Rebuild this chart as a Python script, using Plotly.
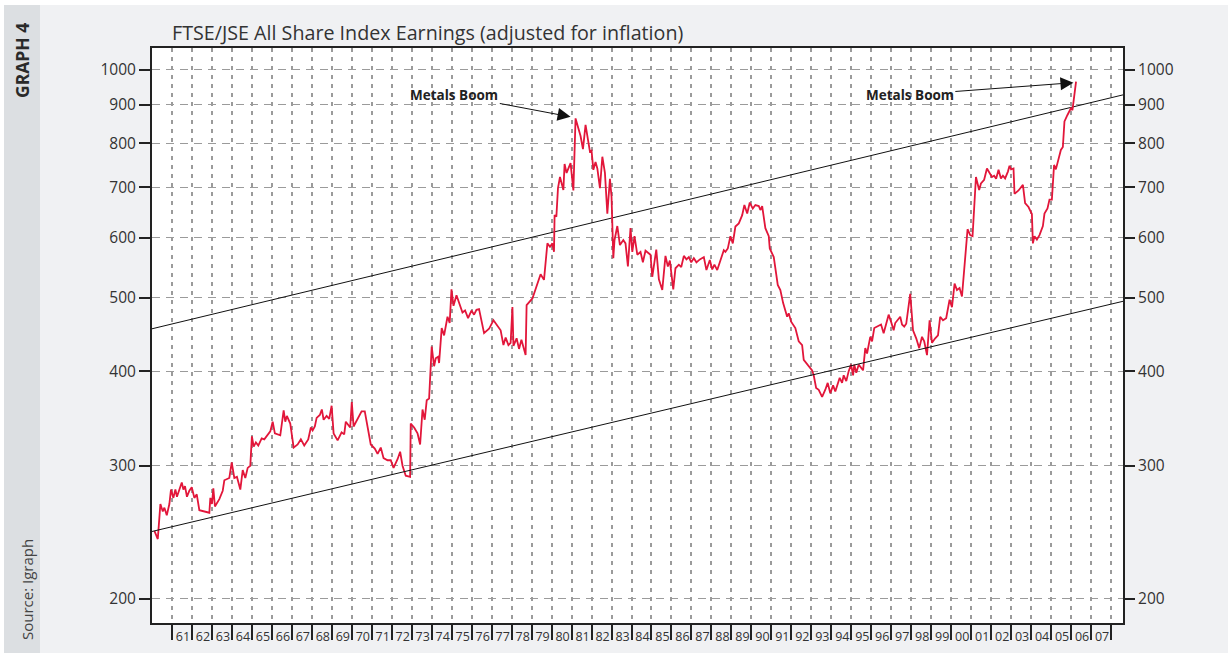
import math
import plotly.graph_objects as go

# ---------------- data ----------------
years = [
    1960.12, 1960.29, 1960.42, 1960.54, 1960.62, 1960.74, 1960.87, 1960.95,
    1961.07, 1961.17, 1961.25, 1961.37, 1961.49, 1961.57, 1961.65, 1961.75, 1961.87, 1961.99,
    1962.12, 1962.24, 1962.37, 1962.87, 1962.92,
    1963.00, 1963.07, 1963.15, 1963.37, 1963.54, 1963.62, 1963.87, 1963.99,
    1964.12, 1964.25, 1964.42, 1964.54, 1964.67, 1964.79, 1964.92,
    1965.00, 1965.09, 1965.20, 1965.32, 1965.49, 1965.62, 1965.79, 1965.92,
    1966.04, 1966.15, 1966.42, 1966.59, 1966.67, 1966.75, 1966.92,
    1967.09, 1967.29, 1967.45, 1967.62, 1967.82, 1967.95,
    1968.04, 1968.15, 1968.24, 1968.40, 1968.50, 1968.59, 1968.74, 1968.87, 1968.99,
    1969.09, 1969.29, 1969.49, 1969.62, 1969.70, 1969.82, 1969.92,
    1970.00, 1970.09, 1970.49, 1970.65, 1970.95,
    1971.15, 1971.29, 1971.45, 1971.59, 1971.79, 1971.95,
    1972.09, 1972.29, 1972.42, 1972.54, 1972.70, 1972.92, 1972.95,
    1973.12, 1973.29, 1973.42, 1973.54, 1973.65, 1973.75, 1973.87,
    1974.00, 1974.12, 1974.20, 1974.32, 1974.37, 1974.50, 1974.62, 1974.79, 1974.90, 1974.99,
    1975.09, 1975.24, 1975.37, 1975.54, 1975.67, 1975.82, 1975.99,
    1976.12, 1976.24, 1976.37, 1976.62, 1976.87,
    1977.09, 1977.45, 1977.59, 1977.70, 1977.84, 1977.95,
    1978.04, 1978.09, 1978.25, 1978.37, 1978.49, 1978.59, 1978.70, 1978.75,
    1979.04, 1979.45, 1979.62, 1979.79, 1979.92,
    1980.04, 1980.12, 1980.15, 1980.24, 1980.32, 1980.42, 1980.59, 1980.65, 1980.75, 1980.95,
    1981.09, 1981.20, 1981.45, 1981.57, 1981.70, 1981.92,
    1982.00, 1982.09, 1982.20, 1982.29, 1982.42, 1982.54, 1982.67, 1982.79, 1982.92,
    1983.00, 1983.09, 1983.15, 1983.29, 1983.42, 1983.59, 1983.70, 1983.82, 1983.95,
    1984.04, 1984.15, 1984.29, 1984.45, 1984.57, 1984.70, 1984.95,
    1985.04, 1985.12, 1985.24, 1985.37, 1985.54, 1985.70, 1985.82, 1985.92,
    1986.09, 1986.20, 1986.37, 1986.49, 1986.62, 1986.75, 1986.87, 1986.99,
    1987.12, 1987.25, 1987.42, 1987.62, 1987.75, 1987.92,
    1988.04, 1988.15, 1988.29, 1988.42, 1988.54, 1988.62, 1988.70, 1988.82, 1988.95,
    1989.07, 1989.20, 1989.37, 1989.54, 1989.65, 1989.79, 1989.92,
    1990.07, 1990.20, 1990.37, 1990.45, 1990.54, 1990.70, 1990.87, 1990.92,
    1991.12, 1991.32, 1991.45, 1991.59, 1991.79, 1991.87, 1991.99,
    1992.20, 1992.37, 1992.54, 1992.62, 1992.79,
    1993.04, 1993.12, 1993.24, 1993.37, 1993.54, 1993.70, 1993.82, 1993.95,
    1994.09, 1994.20, 1994.32, 1994.42, 1994.54, 1994.62, 1994.75, 1994.87, 1994.99,
    1995.09, 1995.15, 1995.25, 1995.37, 1995.45, 1995.59, 1995.70, 1995.79, 1995.95,
    1996.04, 1996.15, 1996.32, 1996.49, 1996.62, 1996.74, 1996.87, 1996.99,
    1997.12, 1997.20, 1997.45, 1997.54, 1997.65, 1997.75, 1997.95,
    1998.09, 1998.25, 1998.40, 1998.54, 1998.65, 1998.79, 1998.92,
    1999.04, 1999.20, 1999.34, 1999.45, 1999.59, 1999.75, 1999.92,
    2000.04, 2000.17, 2000.29, 2000.42, 2000.54, 2000.82, 2000.95,
    2001.07, 2001.24, 2001.40, 2001.49, 2001.65, 2001.79, 2001.92,
    2002.04, 2002.15, 2002.25, 2002.37, 2002.49, 2002.59, 2002.70, 2002.84, 2002.92,
    2003.00, 2003.12, 2003.17, 2003.37, 2003.59, 2003.70, 2003.87,
    2004.04, 2004.09, 2004.17, 2004.29, 2004.42, 2004.59, 2004.67, 2004.82, 2004.92,
    2005.04, 2005.15, 2005.24, 2005.37, 2005.49, 2005.59, 2005.67, 2005.82, 2005.99,
    2006.07, 2006.25,
]
earnings = [
    246, 240, 267, 261, 264, 258, 267, 279,
    272, 279, 273, 279, 285, 279, 282, 273, 278, 281,
    272, 275, 262, 260, 272,
    267, 280, 265, 271, 278, 287, 289, 303,
    289, 290, 279, 296, 289, 298, 300,
    328, 318, 322, 319, 326, 325, 330, 333,
    343, 331, 329, 355, 343, 349, 341,
    317, 320, 325, 319, 325, 337,
    334, 338, 347, 350, 356, 345, 349, 346, 360,
    331, 324, 332, 330, 343, 339, 337,
    364, 338, 354, 354, 320,
    316, 311, 317, 307, 305, 305,
    298, 306, 313, 300, 291, 290, 341,
    337, 331, 320, 356, 345, 366, 368,
    431, 406, 416, 418, 410, 456, 446, 472, 463, 513,
    488, 504, 493, 478, 481, 470, 481,
    475, 482, 483, 449, 455,
    467, 453, 433, 443, 433, 436,
    486, 432, 442, 428, 440, 431, 420, 489,
    499, 537, 528, 590, 584,
    590, 575, 643, 640, 698, 722, 694, 751, 731, 753,
    693, 863, 818, 786, 846, 780,
    782, 738, 756, 741, 698, 768, 731, 646, 718,
    680, 564, 596, 622, 587, 596, 590, 550, 618,
    575, 603, 570, 575, 557, 577, 570,
    533, 551, 579, 529, 512, 568, 550, 560,
    513, 547, 553, 549, 568, 562, 566, 557,
    564, 557, 562, 566, 544, 561,
    545, 553, 544, 557, 570, 578, 575, 581, 603,
    590, 621, 627, 643, 663, 646, 668,
    656, 663, 661, 653, 661, 618, 603, 581,
    566, 520, 512, 492, 472, 477, 465,
    456, 438, 433, 414, 409,
    401, 395, 380, 378, 370, 378, 386, 374,
    383, 376, 386, 392, 386, 395, 388, 400, 408,
    395, 408, 398, 408, 405, 401, 429, 422, 444,
    438, 456, 458, 461, 449, 462, 475, 465,
    453, 463, 472, 461, 458, 462, 506,
    453, 442, 429, 444, 438, 420, 467,
    436, 442, 446, 472, 467, 470, 497,
    486, 522, 512, 515, 502, 616, 605,
    603, 722, 694, 708, 716, 741, 730,
    722, 725, 718, 738, 719, 725, 719, 734, 747,
    739, 741, 686, 693, 705, 667, 659,
    645, 590, 603, 597, 605, 622, 646, 656, 674,
    674, 749, 739, 759, 784, 791, 855, 872, 890,
    885, 965,
]

trend_years = [1960.0, 2008.6]
upper_trend = [455, 927]
lower_trend = [245.6, 494.7]

ytick_vals = [200, 300, 400, 500, 600, 700, 800, 900, 1000]
year_starts = list(range(1961, 2009))
label_years = list(range(1961, 2008))
year_labels = [f"{y % 100:02d}" for y in label_years]

title_text = "FTSE/JSE All Share Index Earnings (adjusted for inflation)"
boom_labels = ["Metals Boom", "Metals Boom"]
boom_tip_x = [1980.95, 2006.12]
boom_tip_y = [867, 962]
boom_text_x = [1975.13, 1997.93]
boom_text_y = [927, 927]

# ---------------- styling ----------------
FONT = "Open Sans, Noto Sans, DejaVu Sans, sans-serif"
RED = "#e2163a"
GRID = "#9b9b9b"
yrange = [2.2693, 3.029]
xrange = [1960.0, 2008.6]

fig = go.Figure()
fig.add_trace(go.Scatter(x=trend_years, y=upper_trend, mode="lines",
                         line=dict(color="#111111", width=1), hoverinfo="skip"))
fig.add_trace(go.Scatter(x=trend_years, y=lower_trend, mode="lines", yaxis="y2",
                         line=dict(color="#111111", width=1), hoverinfo="skip"))
fig.add_trace(go.Scatter(x=years, y=earnings, mode="lines",
                         line=dict(color=RED, width=1.8)))

fig.update_layout(
    width=1228, height=653,
    margin=dict(l=152, r=105, t=48, b=30, autoexpand=False),
    paper_bgcolor="#f0f1f3",
    plot_bgcolor="white",
    showlegend=False,
    font=dict(family=FONT, color="#333333"),
    xaxis=dict(
        range=xrange, showgrid=False, zeroline=False, automargin=False,
        tickmode="array", tickvals=[y + 0.55 for y in label_years], ticktext=year_labels,
        ticks="outside", ticklen=1, tickcolor="rgba(0,0,0,0)",
        tickfont=dict(size=12.5, color="#333333"),
        showline=True, linecolor="#222222", linewidth=2, mirror=True,
        minor=dict(tickmode="array", tickvals=year_starts, ticks="outside",
                   ticklen=15, tickwidth=2, tickcolor="#222222",
                   showgrid=True, gridcolor=GRID, gridwidth=1.5, griddash="4px,5px"),
    ),
    yaxis=dict(
        type="log", range=yrange, tickmode="array", tickvals=ytick_vals,
        ticktext=[str(v) for v in ytick_vals], automargin=False,
        ticks="outside", ticklen=11, tickwidth=1.5, tickcolor="#222222",
        tickfont=dict(size=15.5, color="#333333"),
        showgrid=True, gridcolor=GRID, gridwidth=1, griddash="8px,6px",
        zeroline=False,
        showline=True, linecolor="#222222", linewidth=2, mirror=True,
    ),
    yaxis2=dict(
        type="log", range=yrange, overlaying="y", side="right", automargin=False,
        tickmode="array", tickvals=ytick_vals, ticktext=[str(v) for v in ytick_vals],
        ticks="outside", ticklen=11, tickwidth=1.5, tickcolor="#222222",
        tickfont=dict(size=15.5, color="#333333"),
        showgrid=False, zeroline=False, showline=False,
    ),
)

# background strips (outside plot area)
fig.add_shape(type="rect", xref="paper", yref="paper",
              x0=-0.17, x1=1.12, y0=(623 - 5) / 575, y1=1.2,
              fillcolor="white", line=dict(width=0), layer="below")
fig.add_shape(type="rect", xref="paper", yref="paper",
              x0=-0.17, x1=(4 - 152) / 971, y0=-0.1, y1=1.2,
              fillcolor="white", line=dict(width=0), layer="below")
fig.add_shape(type="rect", xref="paper", yref="paper",
              x0=(4 - 152) / 971, x1=(40 - 152) / 971, y0=-0.1, y1=(623 - 5) / 575,
              fillcolor="#dcdfe2", line=dict(width=0), layer="below")

# titles / side labels
fig.add_annotation(text=title_text, xref="paper", yref="paper",
                   x=(170 - 152) / 971, y=(623 - 33) / 575, xanchor="left", yanchor="middle",
                   showarrow=False, font=dict(size=19.7, color="#333333", family=FONT))
fig.add_annotation(text="<b>GRAPH 4</b>", xref="paper", yref="paper",
                   x=(22 - 152) / 971, y=(623 - 61) / 575, textangle=-90,
                   xanchor="center", yanchor="middle",
                   showarrow=False, font=dict(size=17.5, color="#2a2a2a", family=FONT))
fig.add_annotation(text="Source: Igraph", xref="paper", yref="paper",
                   x=(27 - 152) / 971, y=(623 - 590) / 575, textangle=-90,
                   xanchor="center", yanchor="middle",
                   showarrow=False, font=dict(size=15, color="#444444", family=FONT))

# annotations on a log axis take log10 positions
for lab, tx, ty, ax, ay in zip(boom_labels, boom_tip_x, boom_tip_y, boom_text_x, boom_text_y):
    fig.add_annotation(text=f"<b>{lab}</b>", x=tx, y=math.log10(ty), xref="x", yref="y",
                       ax=ax, ay=math.log10(ay), axref="x", ayref="y",
                       showarrow=True, arrowhead=2, arrowsize=2.6, arrowwidth=1,
                       arrowcolor="#111111", standoff=0,
                       font=dict(size=13.5, color="#222222", family=FONT))

fig.write_html("out.html", config={"displayModeBar": False},
               post_script="document.body.style.margin='0';")
